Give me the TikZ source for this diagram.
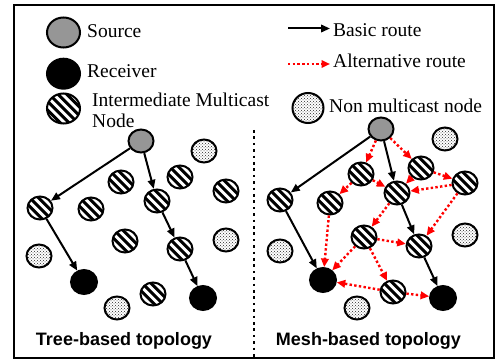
\documentclass[tikz,border=0pt]{standalone}
\usepackage{fontspec}
\setmainfont{Liberation Serif}
\newfontfamily\labfont{Liberation Sans}
\usetikzlibrary{shapes.geometric,arrows.meta,patterns}
\definecolor{srcgray}{RGB}{150,150,150}
\tikzset{
  nd/.style={ellipse, draw=black, line width=2pt, minimum width=25pt,
    minimum height=23pt, inner sep=0pt},
  big/.style={minimum width=33pt, minimum height=30pt},
  src/.style={nd, fill=srcgray},
  rcv/.style={nd, fill=black, minimum width=26pt, minimum height=24pt},
  hat/.style={nd, fill=white, path picture={
      \foreach \k in {-5,...,5}
        \draw[line width=3pt]
          ([shift={(\k*4.4pt-22pt,\k*4.4pt+22pt)}]path picture bounding box.center)
          -- ++(44pt,-44pt);}},
  nmc/.style={nd, fill=white, path picture={
      \fill[pattern=crosshatch dots, pattern color=black!85]
        (path picture bounding box.south west) rectangle
        (path picture bounding box.north east);}},
  basic/.style={draw=black, line width=2pt,
    -{Triangle[length=9pt,width=7.5pt]}},
  alt/.style={draw=red, line width=2.4pt, dash pattern=on 2.4pt off 2.3pt,
    -{Triangle[length=8.5pt,width=7.5pt]}},
  legtxt/.style={anchor=base west, inner sep=0pt,
    font=\fontsize{19.5}{21}\selectfont},
  toptxt/.style={anchor=base, inner sep=0pt,
    font=\labfont\bfseries\fontsize{18}{20}\selectfont}
}
\begin{document}
\begin{tikzpicture}[x=1pt,y=-1pt]
\useasboundingbox (0,0) rectangle (499,361);
% outer frame and panel divider
\draw[line width=1.8pt] (14,5) rectangle (494,358);
\coordinate (divtop) at (254,130);
\coordinate (divbot) at (254,357);
\draw[line width=2.4pt, dash pattern=on 2.6pt off 3.8pt] (divtop) -- (divbot);

% legend
\node[src,big] (lgsrc) at (63.5,32.5) {};
\node[legtxt] (lgsrct) at (87,37.5) {Source};
\node[rcv,big] (lgrcv) at (63.5,73.7) {};
\node[legtxt] (lgrcvt) at (87,78) {Receiver};
\node[hat,big] (lghat) at (63.5,108.5) {};
\node[legtxt] (lghatt) at (92,107) {Intermediate Multicast};
\node[legtxt] (lghatt2) at (92,128) {Node};
\coordinate (lgb1) at (288,28.5);
\coordinate (lgb2) at (330,28.5);
\draw[basic] (lgb1) -- (lgb2);
\node[legtxt] (lgbt) at (333,36.5) {Basic route};
\coordinate (lga1) at (288,64);
\coordinate (lga2) at (330,64);
\draw[alt] (lga1) -- (lga2);
\node[legtxt] (lgat) at (333,68) {Alternative route};
\node[nmc,big,minimum width=31pt] (lgnmc) at (308,108) {};
\node[legtxt] (lgnmct) at (329,113) {Non multicast node};

% tree-based topology
\node[src] (ts) at (141,141) {};
\node[nmc] (tn1) at (204,151) {};
\node[hat] (th1) at (121,182) {};
\node[hat] (th2) at (180,177) {};
\node[hat] (th3) at (226,191) {};
\node[hat] (tl) at (40,208) {};
\node[hat] (th4) at (91,209) {};
\node[hat] (tm) at (157,201) {};
\node[hat] (th5) at (125,241) {};
\node[hat] (tm2) at (180,249) {};
\node[nmc] (tn2) at (226,240) {};
\node[nmc] (tn3) at (39,256) {};
\node[rcv] (tr1) at (84,282) {};
\node[hat] (th6) at (153,294) {};
\node[nmc] (tn4) at (117,308) {};
\node[rcv] (tr2) at (203,298) {};
\draw[basic] (ts) -- (tl);
\draw[basic] (ts) -- (tm);
\draw[basic] (tl) -- (tr1);
\draw[basic] (tm) -- (tm2);
\draw[basic] (tm2) -- (tr2);
\node[toptxt] (tlab) at (124,345) {Tree-based topology};

% mesh-based topology
\node[src] (ms) at (381,129) {};
\node[nmc] (mn1) at (445,139) {};
\node[hat] (mh1) at (361,174) {};
\node[hat] (mh2) at (421,168) {};
\node[hat] (mh3) at (465,183) {};
\node[hat] (mc) at (397,193) {};
\node[hat] (ml) at (280,200) {};
\node[hat] (mh4) at (330,203) {};
\node[hat] (mh5) at (364,237) {};
\node[hat] (mc2) at (419,246) {};
\node[nmc] (mn2) at (465,235) {};
\node[nmc] (mn3) at (280,251) {};
\node[rcv] (mr1) at (323,280) {};
\node[hat] (mh6) at (393,292) {};
\node[nmc] (mn4) at (357,308) {};
\node[rcv] (mr2) at (443,298) {};
% alternative routes
\draw[alt] (ms) -- (mh1);
\draw[alt] (ms) -- (mh2);
\draw[alt] (mh1) -- (mc);
\draw[alt] (mh1) -- (mh4);
\draw[alt] (mh2) -- (mc);
\draw[alt] (mh2) -- (mh3);
\draw[alt] (mh3) -- (mc);
\draw[alt] (mh3) -- (mc2);
\draw[alt] (mc) -- (mh5);
\draw[alt] (mh4) -- (mr1);
\draw[alt] (mh5) -- (mr1);
\draw[alt] (mh5) -- (mc2);
\draw[alt] (mh5) -- (mh6);
\draw[alt] (mh6) -- (mr2);
\draw[alt] (mh6) -- (mr1);
% basic routes
\draw[basic] (ms) -- (ml);
\draw[basic] (ms) -- (mc);
\draw[basic] (ml) -- (mr1);
\draw[basic] (mc) -- (mc2);
\draw[basic] (mc2) -- (mr2);
\node[toptxt] (mlab) at (368.5,345) {Mesh-based topology};
\end{tikzpicture}
\end{document}
